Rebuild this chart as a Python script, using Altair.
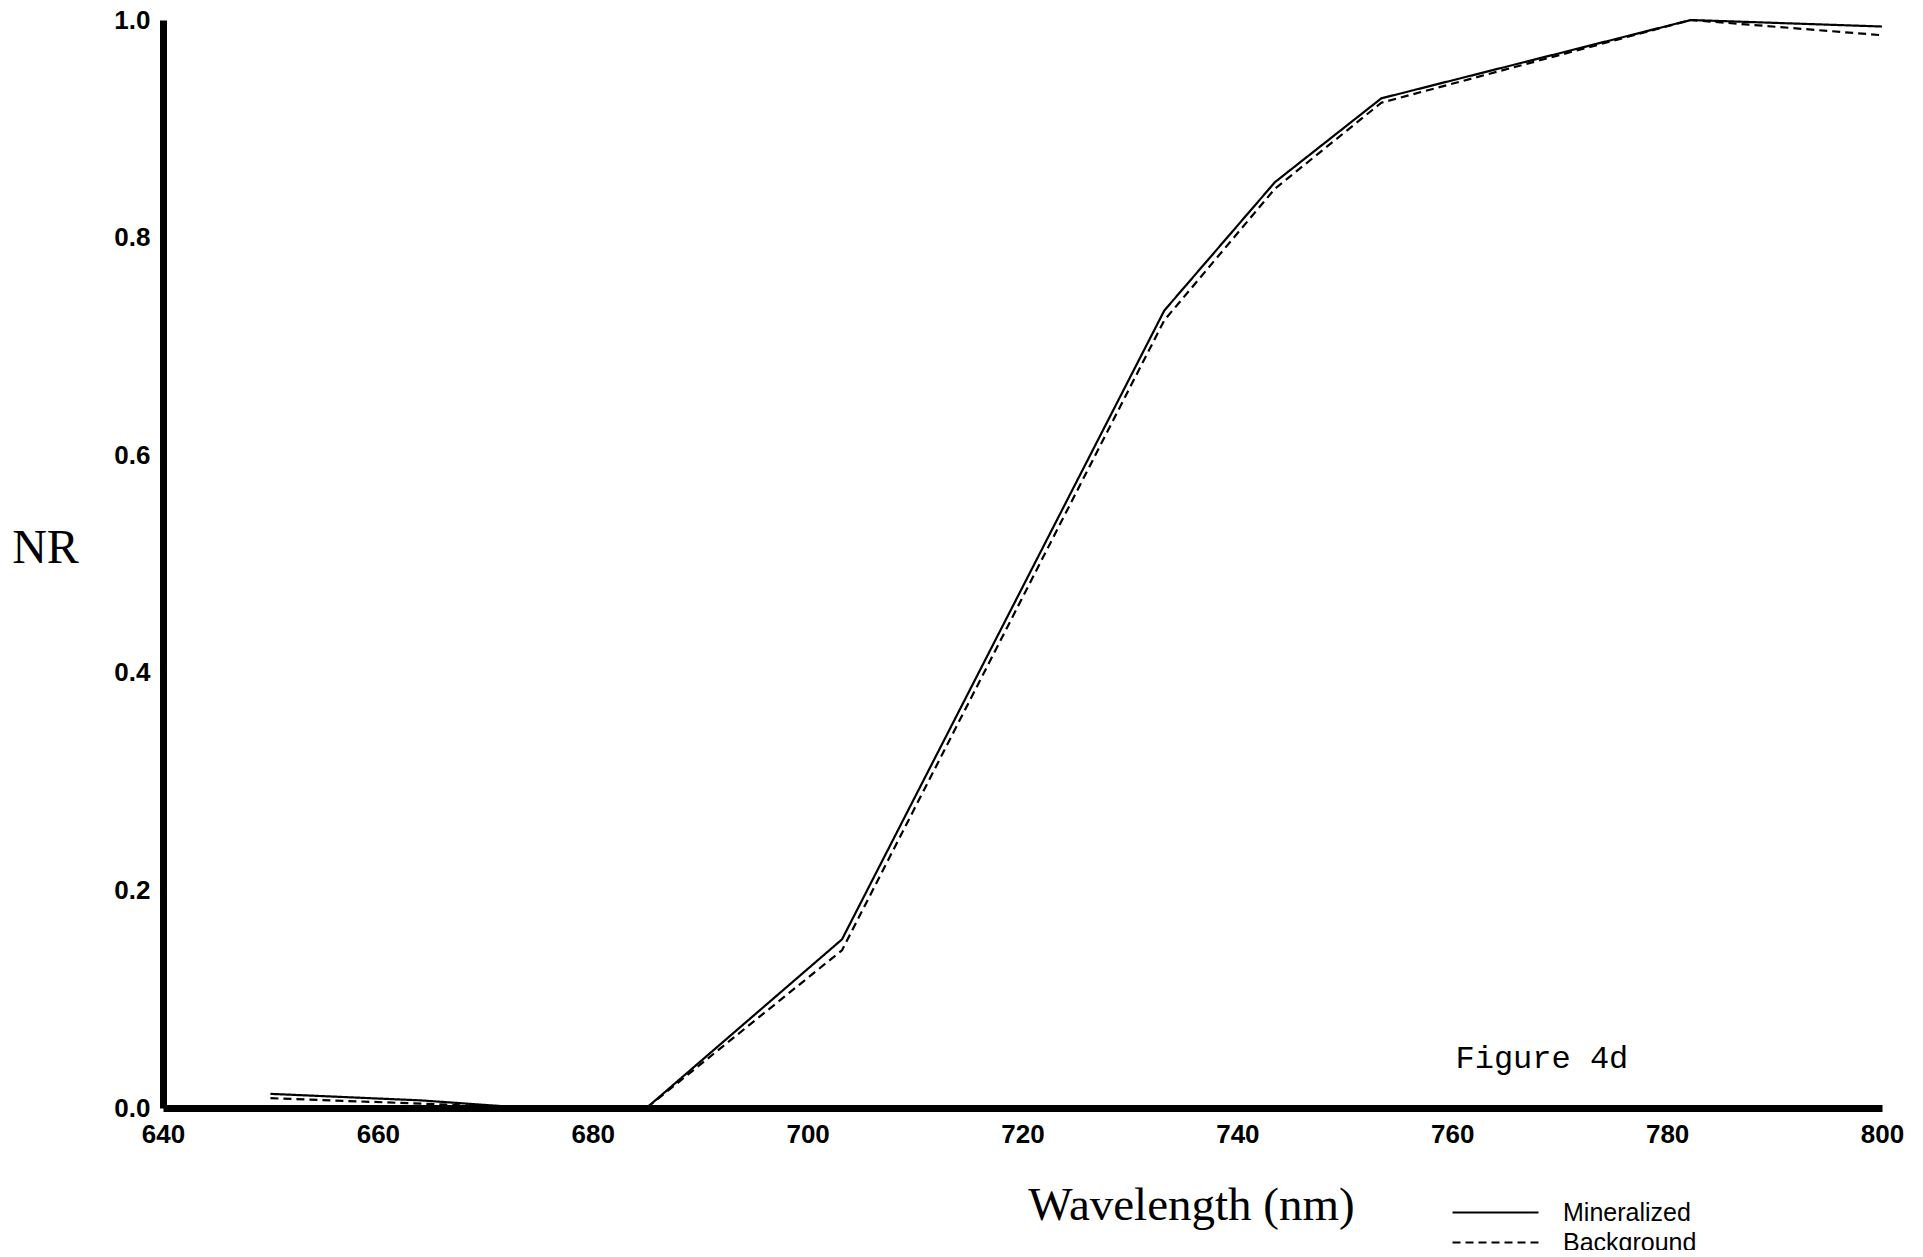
import altair as alt
import pandas as pd

# Wavelengths (nm) of the spectral bands
wavelengths = [650, 664, 674, 685, 703.2, 733.2, 743.5, 753.4, 782.2, 800]
mineralized = [0.013, 0.007, 0.0, 0.0, 0.155, 0.733, 0.851, 0.928, 1.0, 0.994]
background = [0.009, 0.004, 0.0, 0.0, 0.145, 0.724, 0.845, 0.924, 1.0, 0.986]
series_names = ["Mineralized", "Background"]

x_ticks = [640, 660, 680, 700, 720, 740, 760, 780, 800]
y_ticks = [0.0, 0.2, 0.4, 0.6, 0.8, 1.0]

annot_text = ["Figure 4d"]
annot_x = [760.3]
annot_y = [0.046]

rows = []
for w, m, b in zip(wavelengths, mineralized, background):
    rows.append({"wl": w, "nr": m, "series": series_names[0]})
    rows.append({"wl": w, "nr": b, "series": series_names[1]})
df = pd.DataFrame(rows)
ann = pd.DataFrame({"t": annot_text, "x": annot_x, "y": annot_y})

W, H = 1719, 1088

x_scale = alt.Scale(domain=[640, 800], nice=False, zero=False)
y_scale = alt.Scale(domain=[0, 1], nice=False)

lines = alt.Chart(df).mark_line(color="black", strokeWidth=2.2).encode(
    x=alt.X("wl:Q", scale=x_scale,
            axis=alt.Axis(values=x_ticks, format="d", title="Wavelength (nm)",
                          ticks=False, grid=False, domainColor="black", domainWidth=7,
                          labelFont="Liberation Sans", labelFontWeight="bold",
                          labelFontSize=26, labelColor="black", labelPadding=13,
                          labelFlush=False,
                          titleFont="Liberation Serif", titleFontSize=47,
                          titleFontWeight="normal", titleColor="black",
                          titleX=1028, titleY=97, titleAlign="center",
                          titleBaseline="middle", titleAnchor="start")),
    y=alt.Y("nr:Q", scale=y_scale,
            axis=alt.Axis(values=y_ticks, format=".1f", title="NR",
                          ticks=False, grid=False, domainColor="black", domainWidth=7,
                          labelFont="Liberation Sans", labelFontWeight="bold",
                          labelFontSize=26, labelColor="black", labelPadding=13,
                          labelFlush=False,
                          titleFont="Liberation Serif", titleFontSize=48,
                          titleFontWeight="normal", titleColor="black",
                          titleAngle=0, titleX=-118, titleY=528, titleAlign="center",
                          titleBaseline="middle", titleAnchor="start")),
    strokeDash=alt.StrokeDash("series:N",
                              scale=alt.Scale(domain=series_names, range=[[1, 0], [8, 5]]),
                              legend=alt.Legend(title=None, orient="none", legendX=1320,
                                                legendY=1180, symbolType="M-4,0H4",
                                                symbolSize=462, symbolStrokeWidth=2,
                                                symbolStrokeColor="black",
                                                labelFont="Liberation Sans", labelFontSize=25,
                                                labelColor="black", labelOffset=55,
                                                rowPadding=4)),
    detail="series:N",
)

text = alt.Chart(ann).mark_text(font="Liberation Mono", fontSize=32, align="left",
                                baseline="middle", color="black").encode(
    x=alt.X("x:Q", scale=x_scale), y=alt.Y("y:Q", scale=y_scale), text="t:N")

chart = (lines + text).properties(
    width=W, height=H,
    autosize=alt.AutoSizeParams(type="none"),
    padding={"left": 163, "top": 20, "right": 41, "bottom": 142},
    background="white",
).configure_view(stroke=None)

chart.save("out.html", embed_options={"renderer": "svg", "actions": False})
